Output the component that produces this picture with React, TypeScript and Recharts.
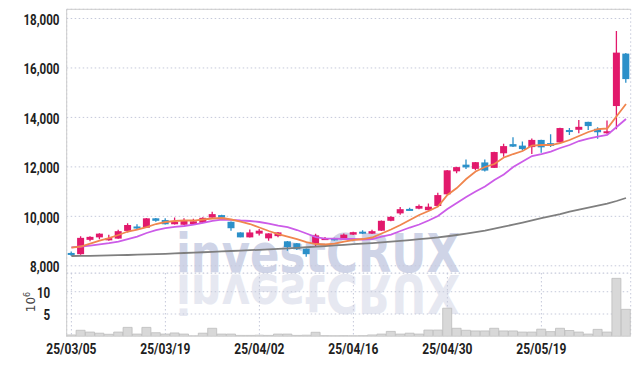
import React from 'react';
import { ComposedChart, BarChart, Bar, Line, XAxis, YAxis, CartesianGrid, ReferenceLine } from 'recharts';

const dates = [
  '25/03/05','25/03/06','25/03/07','25/03/10','25/03/11','25/03/12','25/03/13','25/03/14','25/03/17','25/03/18',
  '25/03/19','25/03/20','25/03/21','25/03/24','25/03/25','25/03/26','25/03/27','25/03/28','25/03/31','25/04/01',
  '25/04/02','25/04/03','25/04/04','25/04/07','25/04/08','25/04/09','25/04/10','25/04/11','25/04/14','25/04/15',
  '25/04/16','25/04/17','25/04/18','25/04/21','25/04/22','25/04/23','25/04/24','25/04/25','25/04/28','25/04/29',
  '25/04/30','25/05/02','25/05/07','25/05/08','25/05/09','25/05/12','25/05/13','25/05/14','25/05/15','25/05/16',
  '25/05/19','25/05/20','25/05/21','25/05/22','25/05/23','25/05/26','25/05/27','25/05/28','25/05/29','25/05/30',
];

const opens = [
  8520, 8470, 9050, 9150, 9030, 9100, 9410, 9590, 9540, 9920,
  9850, 9680, 9660, 9690, 9740, 9950, 10050, 9780, 9350, 9150,
  9300, 9110, 9200, 8990, 8910, 8690, 8880, 9100, 9120, 9070,
  9260, 9380, 9300, 9420, 9820, 10120, 10300, 10310, 10250, 10420,
  10890, 11820, 12090, 11920, 12180, 11960, 12550, 12920, 12860, 12800,
  13090, 12960, 12990, 13490, 13500, 13820, 13540, 13360, 14460, 16580,
];
const highs = [
  8580, 9200, 9200, 9320, 9260, 9460, 9720, 9680, 9930, 9930,
  9920, 9950, 9920, 9900, 9960, 10190, 10060, 9790, 9360, 9470,
  9490, 9320, 9370, 9000, 8920, 8700, 9300, 9160, 9130, 9310,
  9380, 9440, 9460, 9830, 10000, 10380, 10350, 10480, 10520, 10950,
  11870, 12010, 12300, 12200, 12300, 12610, 12940, 13200, 13030, 13150,
  13100, 13320, 13580, 13570, 13900, 13830, 13600, 13880, 17490, 16600,
];
const lows = [
  8400, 8450, 8990, 9070, 9010, 9090, 9350, 9480, 9530, 9780,
  9670, 9670, 9650, 9670, 9730, 9940, 9930, 9420, 9150, 9140,
  9230, 9010, 9150, 8610, 8640, 8370, 8770, 9060, 9020, 9060,
  9250, 9290, 9290, 9410, 9800, 10060, 10250, 10290, 10240, 10410,
  10880, 11740, 11910, 11860, 11810, 11950, 12410, 12800, 12660, 12520,
  12570, 12800, 12980, 13290, 13360, 13490, 13140, 13340, 13520, 15400,
];
const closes = [
  8480, 9130, 9170, 9300, 9120, 9400, 9650, 9570, 9920, 9820,
  9680, 9770, 9850, 9800, 9940, 10090, 9950, 9520, 9150, 9350,
  9420, 9310, 9350, 8760, 8670, 8470, 9230, 9120, 9030, 9260,
  9360, 9350, 9400, 9820, 9980, 10290, 10280, 10420, 10390, 10860,
  11860, 11990, 11980, 12190, 11850, 12600, 12840, 12820, 12720, 13090,
  12790, 12850, 13570, 13430, 13620, 13650, 13400, 13440, 16620, 15550,
];
const ma5 = [
  8739, 8780, 8901, 9022, 9123, 9245, 9386, 9467, 9568, 9690,
  9771, 9811, 9831, 9831, 9872, 9912, 9932, 9872, 9791, 9690,
  9548, 9407, 9285, 9184, 9083, 8962, 8881, 8861, 8901, 8982,
  9043, 9083, 9144, 9305, 9467, 9649, 9851, 10053, 10215, 10397,
  10862, 11145, 11509, 11813, 11995, 12116, 12379, 12520, 12642, 12864,
  12884, 12884, 12965, 13087, 13248, 13410, 13531, 13552, 14050, 14542,
];
const ma10 = [
  8747, 8780, 8820, 8869, 8921, 8982, 9083, 9184, 9326, 9447,
  9528, 9576, 9609, 9669, 9738, 9819, 9864, 9860, 9831, 9811,
  9771, 9710, 9629, 9560, 9447, 9305, 9164, 9103, 9103, 9083,
  9083, 9063, 9083, 9184, 9265, 9407, 9548, 9669, 9831, 10013,
  10296, 10539, 10781, 11004, 11206, 11469, 11691, 11995, 12217, 12439,
  12520, 12621, 12763, 12884, 13046, 13147, 13228, 13289, 13612, 13936,
];
const maLong = [
  8396, 8400, 8404, 8412, 8420, 8428, 8436, 8448, 8460, 8472,
  8484, 8500, 8517, 8533, 8549, 8565, 8581, 8598, 8614, 8630,
  8646, 8666, 8687, 8707, 8727, 8751, 8776, 8800, 8824, 8848,
  8873, 8897, 8921, 8949, 8978, 9010, 9042, 9075, 9111, 9148,
  9195, 9245, 9300, 9360, 9425, 9500, 9580, 9665, 9750, 9840,
  9930, 10010, 10090, 10190, 10270, 10350, 10430, 10510, 10620, 10741,
];
const volumes = [
  0.3, 1.35, 0.95, 0.7, 0.45, 0.95, 2.0, 0.5, 2.0, 0.8,
  0.5, 0.75, 0.5, 0.1, 0.7, 1.8, 0.5, 0.5, 0.2, 0.2,
  0.25, 0.2, 0.5, 0.5, 0.2, 0.25, 0.9, 0.15, 0.12, 0.15,
  0.12, 0.15, 0.3, 0.5, 1.1, 0.5, 0.7, 0.5, 1.4, 1.4,
  6.3, 1.8, 1.35, 1.2, 1.2, 1.8, 1.2, 1.2, 0.95, 0.95,
  1.6, 1.05, 1.8, 1.3, 0.95, 0.5, 1.55, 0.95, 13.0, 6.05,
];
const priceTicks = [8000, 10000, 12000, 14000, 16000, 18000];
const volumeTicks = [5, 10];
const priceDomain = [7709, 18372];
const volumeDomain = [0, 14.2];

const data = dates.map((date, i) => ({
  date,
  open: opens[i],
  high: highs[i],
  low: lows[i],
  close: closes[i],
  ma5: ma5[i],
  ma10: ma10[i],
  maLong: maLong[i],
  volume: volumes[i],
}));

const UP = '#e2196c';
const DOWN = '#2b90c9';
const FRAME = '#cccccc';
const GRID = '#c5c9da';
const TEXT = '#1e1e1e';

const Candle = (props: any) => {
  const { x, y, width, height, payload } = props;
  if (!payload) return null;
  const { open, close, high, low } = payload;
  const color = close >= open ? UP : DOWN;
  const ratio = height / (high - low);
  const yOf = (v: number) => y + (high - v) * ratio;
  const top = yOf(Math.max(open, close));
  const bot = yOf(Math.min(open, close));
  const cx = x + width / 2;
  return (
    <g>
      <line x1={cx} x2={cx} y1={y} y2={y + height} stroke={color} strokeWidth={1.3} />
      <rect x={x} y={top} width={width} height={Math.max(bot - top, 2)} fill={color} />
    </g>
  );
};

const AxisText = ({ tx, ty, anchor, value, size }: any) => (
  <g transform={`translate(${tx},${ty}) scale(0.8,1)`}>
    <text x={0} y={0} textAnchor={anchor} dominantBaseline="central" fontSize={size} fontWeight={700} fill={TEXT} fontFamily="Roboto">
      {value}
    </text>
  </g>
);

const PriceTick = (props: any) => {
  const { x, y, payload } = props;
  return <AxisText tx={x + 0.8} ty={y + 1.5} anchor="end" size={14.5} value={payload.value.toLocaleString('en-US')} />;
};

const VolTick = (props: any) => {
  const { x, y, payload } = props;
  return <AxisText tx={x - 8.5} ty={y + 1} anchor="end" size={14.5} value={String(payload.value)} />;
};

const DateTick = (props: any) => {
  const { x, y, payload } = props;
  return <AxisText tx={x} ty={y + 4.4} anchor="middle" size={15} value={payload.value} />;
};

export default function App() {
  return (
    <div style={{ position: 'absolute', left: 0, top: 0, width: 639, height: 366, background: '#ffffff', overflow: 'hidden' }}>
      <svg width={639} height={366} style={{ position: 'absolute', left: 0, top: 0 }}>
        <defs>
          <clipPath id="volClip">
            <rect x={66.7} y={273.5} width={564} height={63} />
          </clipPath>
        </defs>
        <text x={176} y={272} fontFamily="DejaVu Sans, sans-serif" fontWeight={700} fontSize={53} fill="#cfd4e7" textLength={284} lengthAdjust="spacingAndGlyphs">
          investCRUX
        </text>
        <g clipPath="url(#volClip)">
          <g transform="translate(0,547) scale(1,-1)">
            <text x={176} y={272} fontFamily="DejaVu Sans, sans-serif" fontWeight={700} fontSize={53} fill="#e6e8f1" textLength={284} lengthAdjust="spacingAndGlyphs">
              investCRUX
            </text>
          </g>
        </g>
        <text transform="translate(35,302) rotate(-90)" textAnchor="middle" fontFamily="DejaVu Sans, sans-serif" fontSize={12} fill="#444">
          <tspan>10</tspan>
          <tspan dy={-5} fontSize={8}>6</tspan>
        </text>
      </svg>

      <div style={{ position: 'absolute', left: 0, top: 0 }}>
        <ComposedChart width={639} height={281} data={data} margin={{ top: 9.3, right: 8.3, bottom: 8, left: 0 }}>
          <CartesianGrid stroke={GRID} strokeDasharray="1.5 2.5" />
          <XAxis dataKey="date" interval={9} height={0} tick={false} tickLine={false} axisLine={{ stroke: FRAME }} />
          <YAxis
            domain={priceDomain}
            ticks={priceTicks}
            interval={0}
            allowDataOverflow
            width={66.7}
            tick={<PriceTick />}
            tickLine={false}
            axisLine={{ stroke: FRAME }}
          />
          <YAxis yAxisId="r" orientation="right" domain={priceDomain} width={0} tick={false} tickLine={false} axisLine={{ stroke: FRAME }} />
          <ReferenceLine y={priceDomain[1]} stroke={FRAME} />
          <Bar dataKey={(d: any) => [d.low, d.high]} barSize={7} shape={(p: any) => <Candle {...p} />} isAnimationActive={false} />
          <Line dataKey="maLong" type="linear" stroke="#7f7f7f" strokeWidth={1.8} dot={false} isAnimationActive={false} />
          <Line dataKey="ma10" type="linear" stroke="#cc5ce8" strokeWidth={1.8} dot={false} isAnimationActive={false} />
          <Line dataKey="ma5" type="linear" stroke="#f0864e" strokeWidth={1.8} dot={false} isAnimationActive={false} />
        </ComposedChart>
      </div>

      <div style={{ position: 'absolute', left: 0, top: 273 }}>
        <BarChart width={639} height={93} data={data} margin={{ top: 0, right: 8.3, bottom: 0, left: 0 }} barCategoryGap={0}>
          <CartesianGrid stroke={GRID} strokeDasharray="1.5 2.5" />
          <XAxis dataKey="date" interval={9} height={29.7} tick={<DateTick />} tickLine={false} axisLine={{ stroke: '#dddddd' }} />
          <YAxis domain={volumeDomain} ticks={volumeTicks} interval={0} width={66.7} tick={<VolTick />} tickLine={false} axisLine={{ stroke: FRAME }} />
          <YAxis yAxisId="r" orientation="right" domain={volumeDomain} width={0} tick={false} tickLine={false} axisLine={{ stroke: FRAME }} />
          <Bar dataKey="volume" fill="#d8d8d8" stroke="#bcbcbc" strokeWidth={0.8} isAnimationActive={false} />
        </BarChart>
      </div>
    </div>
  );
}
